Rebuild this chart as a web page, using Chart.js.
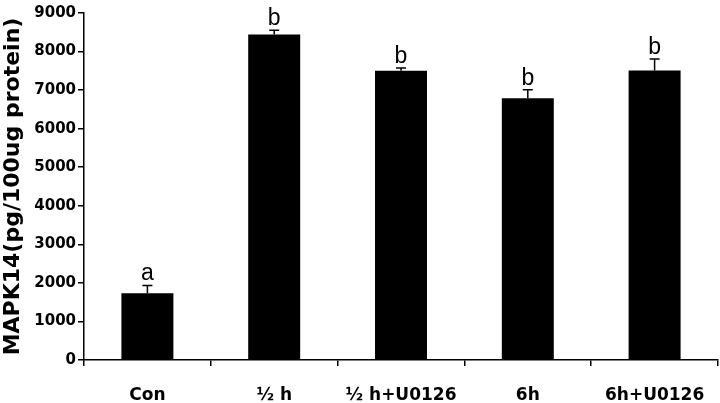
<!DOCTYPE html>
<html>
<head>
<meta charset="utf-8">
<script src="https://cdn.jsdelivr.net/npm/chart.js@4/dist/chart.umd.min.js"></script>
<style>
  html, body { margin: 0; padding: 0; background: #fff; }
  #wrap { width: 720px; height: 403px; }
</style>
</head>
<body>
<div id="wrap"><canvas id="c"></canvas></div>
<script>
const categories = ["Con", "\u00bd h", "\u00bd h+U0126", "6h", "6h+U0126"];
const means = [1730, 8440, 7500, 6790, 7510];
const errors = [200, 110, 75, 220, 300];
const letters = ["a", "b", "b", "b", "b"];
const yTicks = [0, 1000, 2000, 3000, 4000, 5000, 6000, 7000, 8000, 9000];

const boldFont = "'DejaVu Sans', sans-serif";
const letterFont = "'Liberation Sans', Arial, sans-serif";

// error bars (upper only) and significance letters
const errorBars = {
  id: "errorBars",
  afterDatasetsDraw(chart) {
    const ctx = chart.ctx;
    const y = chart.scales.y;
    const meta = chart.getDatasetMeta(0);
    ctx.save();
    ctx.strokeStyle = "#000";
    ctx.lineWidth = 1.5;
    meta.data.forEach((bar, i) => {
      const x = bar.x;
      const top = y.getPixelForValue(means[i]);
      const tip = y.getPixelForValue(means[i] + errors[i]);
      ctx.beginPath();
      ctx.moveTo(x, top);
      ctx.lineTo(x, tip);
      ctx.moveTo(x - 5, tip);
      ctx.lineTo(x + 5, tip);
      ctx.stroke();
      ctx.fillStyle = "#000";
      ctx.font = "23px " + letterFont;
      ctx.textAlign = "center";
      ctx.textBaseline = "bottom";
      ctx.fillText(letters[i], x, tip);
    });
    ctx.restore();
  }
};

new Chart(document.getElementById("c"), {
  type: "bar",
  data: {
    labels: categories,
    datasets: [{
      data: means,
      backgroundColor: "#000",
      borderWidth: 0,
      barPercentage: 0.41,
      categoryPercentage: 1
    }]
  },
  options: {
    responsive: true,
    maintainAspectRatio: false,
    animation: false,
    layout: { padding: { top: 13, right: 2, left: 0, bottom: 0 } },
    plugins: { legend: { display: false }, tooltip: { enabled: false } },
    scales: {
      x: {
        grid: { display: true, drawOnChartArea: false, offset: true, color: "#000", lineWidth: 1.5, tickLength: 6 },
        border: { display: true, color: "#000", width: 1.5 },
        ticks: { color: "#000", font: { family: boldFont, size: 17, weight: "bold" }, padding: 19, maxRotation: 0 },
        afterFit(s) {
          s.height = 43;
          s.paddingLeft = 0;
          s.paddingRight = 0;
        }
      },
      y: {
        min: 0,
        max: 9000,
        afterBuildTicks(s) { s.ticks = yTicks.map(v => ({ value: v })); },
        grid: { display: true, drawOnChartArea: false, color: "#000", lineWidth: 1.5, tickLength: 6 },
        border: { display: true, color: "#000", width: 1.5 },
        ticks: {
          color: "#000",
          font: { family: boldFont, size: 15, weight: "bold" },
          padding: 2,
          callback: (v) => String(v)
        },
        title: {
          display: true,
          text: "MAPK14(pg/100ug protein)",
          color: "#000",
          font: { family: boldFont, size: 22, weight: "bold" },
          padding: { top: 0, bottom: 4 }
        },
        afterFit(s) { s.width = 84; }
      }
    }
  },
  plugins: [errorBars]
});
</script>
</body>
</html>
